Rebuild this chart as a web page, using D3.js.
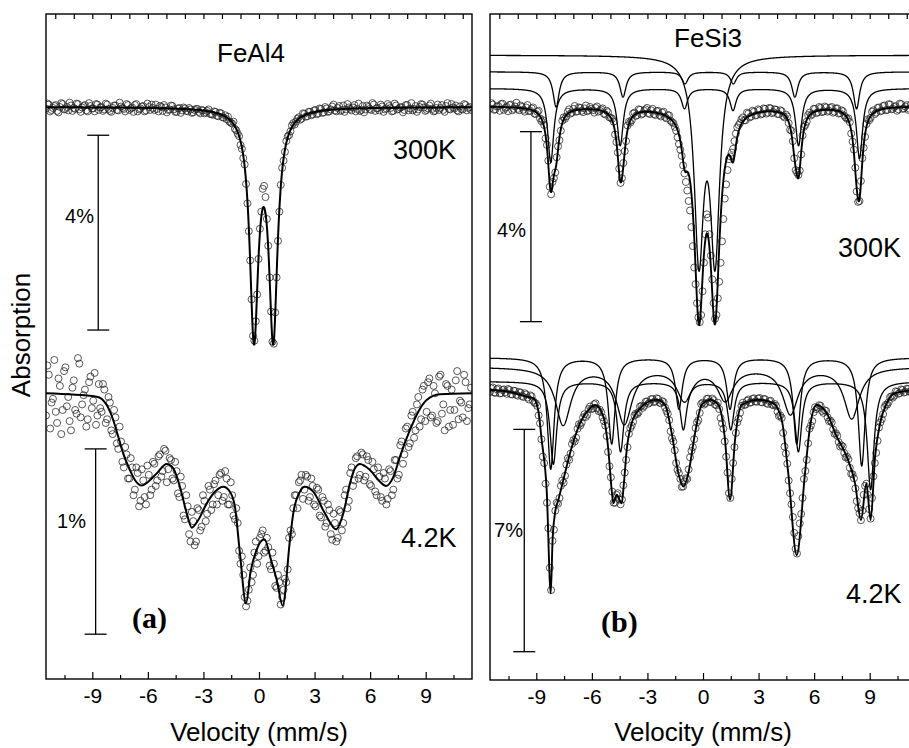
<!DOCTYPE html>
<html><head><meta charset="utf-8">
<script src="https://cdn.jsdelivr.net/npm/d3@7/dist/d3.min.js"></script>
<style>html,body{margin:0;padding:0;background:#fff;}svg{display:block;}</style>
</head><body>
<svg id="chart" width="909" height="748"></svg>
<script>
// ---------------- DATA ----------------
const velocityTicks = [-9, -6, -3, 0, 3, 6, 9];
const minorTicks = [-10.5, -7.5, -4.5, -1.5, 1.5, 4.5, 7.5, 10.5];
const topTicks = [-11,-10,-9,-8,-7,-6,-5,-4,-3,-2,-1,0,1,2,3,4,5,6,7,8,9,10,11];
const velocityDomain = [-11.5, 11.5];
// channels: even channels start at -11.5, odd channels at -11.425, both every 0.15 mm/s
const evenStart = -11.5, oddStart = -11.425, channelStep = 0.15;

// measured absorption (%) per channel
const feal4_300K_even = [0.03,-0.05,0.06,-0.02,0.08,0.00,-0.06,0.04,0.07,-0.03,
0.02,-0.07,0.05,0.01,-0.04,0.09,-0.02,0.03,-0.06,0.06,
0.00,0.05,-0.05,0.08,0.02,-0.03,0.07,-0.01,0.04,-0.06,
0.06,0.01,-0.04,0.09,0.03,-0.02,0.07,0.00,-0.05,0.06,
0.04,-0.02,0.08,0.01,0.06,-0.03,0.05,0.10,0.02,0.07,
0.03,0.09,0.05,0.11,0.04,0.10,0.06,0.13,0.08,0.14,
0.16,0.10,0.19,0.13,0.22,0.25,0.30,0.34,0.45,0.55,
0.78,1.05,1.58,2.55,3.95,4.80,3.85,2.50,1.68,1.85,
2.85,4.20,4.86,3.50,2.15,1.25,0.92,0.60,0.50,0.33,
0.30,0.21,0.24,0.14,0.19,0.10,0.15,0.06,0.13,0.04,
0.11,0.03,0.09,-0.01,0.07,0.02,0.08,-0.03,0.05,0.01,
0.07,-0.04,0.04,0.08,-0.02,0.05,0.00,0.06,-0.05,0.03,
0.07,-0.01,0.05,-0.06,0.02,0.08,-0.03,0.04,0.00,0.06,
-0.04,0.03,0.07,-0.02,0.05,-0.06,0.01,0.06,-0.03,0.04,
0.08,-0.05,0.02,0.06,-0.02,0.04,-0.06,0.03,0.07,-0.01,
0.05,-0.04,0.02,0.06];
const feal4_300K_odd = [-0.07,0.09,0.02,-0.04,0.11,-0.08,0.05,0.00,-0.09,0.08,
0.04,-0.06,0.10,-0.02,0.07,-0.08,0.03,0.09,-0.05,0.01,
0.08,-0.07,0.04,0.10,-0.03,0.06,-0.09,0.02,0.09,-0.04,
0.03,0.10,-0.06,0.05,-0.01,0.09,-0.07,0.06,0.02,-0.05,
0.09,0.00,-0.04,0.11,0.05,-0.02,0.10,0.03,0.12,0.01,
0.08,0.02,0.12,0.06,0.04,0.13,0.07,0.11,0.05,0.15,
0.09,0.18,0.12,0.21,0.17,0.20,0.32,0.30,0.48,0.60,
0.86,1.18,1.98,3.15,4.70,4.40,3.12,2.15,1.62,2.30,
3.50,4.82,4.22,2.75,1.60,1.10,0.70,0.58,0.38,0.36,
0.24,0.26,0.13,0.20,0.10,0.17,0.07,0.15,0.03,0.12,
0.00,0.10,0.05,-0.05,0.09,-0.02,0.06,0.10,-0.06,0.04,
0.01,0.09,-0.07,0.06,0.11,-0.03,0.04,-0.08,0.08,0.02,
-0.05,0.10,0.03,-0.02,0.09,-0.07,0.05,0.01,0.11,-0.04,
0.07,-0.08,0.04,0.10,0.00,-0.05,0.08,0.03,-0.07,0.09,
0.02,0.06,-0.04,0.10,-0.08,0.05,0.01,-0.03,0.09,0.04,
-0.06,0.07,0.00];

const feal4_4K_even = [0.12,-0.10,0.05,-0.18,0.16,-0.04,0.09,-0.14,0.02,0.20,
-0.07,0.11,-0.16,0.06,-0.02,0.14,-0.09,0.04,0.17,-0.05,
0.10,-0.02,0.14,0.05,0.22,0.13,0.30,0.26,0.40,0.33,
0.46,0.40,0.52,0.43,0.58,0.47,0.60,0.44,0.52,0.38,
0.47,0.33,0.42,0.31,0.41,0.36,0.47,0.42,0.56,0.50,
0.68,0.61,0.80,0.69,0.80,0.63,0.72,0.58,0.65,0.52,
0.60,0.47,0.55,0.43,0.56,0.46,0.60,0.55,0.68,0.70,
0.92,0.98,1.15,1.06,1.02,0.86,0.92,0.78,0.74,0.85,
0.83,0.95,0.92,1.05,1.02,1.10,1.00,0.95,0.74,0.62,
0.55,0.48,0.44,0.52,0.45,0.56,0.50,0.61,0.52,0.67,
0.58,0.70,0.63,0.79,0.70,0.78,0.64,0.70,0.52,0.58,
0.40,0.47,0.34,0.44,0.33,0.45,0.36,0.50,0.41,0.55,
0.45,0.58,0.46,0.57,0.42,0.52,0.36,0.44,0.26,0.33,
0.18,0.27,0.10,0.20,0.02,0.14,-0.04,0.10,-0.08,0.12,
0.00,0.15,-0.10,0.06,-0.05,0.18,-0.02,0.09,-0.12,0.04,
0.13,-0.06,0.08,-0.03];
const feal4_4K_odd = [-0.15,0.19,0.03,0.10,-0.08,0.22,-0.12,0.07,0.15,-0.03,
0.09,-0.19,0.13,0.01,0.18,-0.06,0.08,-0.11,0.12,0.08,
-0.05,0.16,0.02,0.20,0.09,0.27,0.18,0.37,0.29,0.46,
0.35,0.55,0.40,0.61,0.41,0.56,0.39,0.55,0.37,0.50,
0.34,0.45,0.30,0.48,0.35,0.46,0.37,0.54,0.45,0.66,
0.55,0.76,0.64,0.82,0.62,0.74,0.55,0.69,0.50,0.63,
0.49,0.60,0.44,0.58,0.42,0.60,0.48,0.66,0.62,0.85,
0.88,1.10,1.12,0.94,0.98,0.80,0.88,0.76,0.86,0.78,
0.93,0.86,1.04,0.98,1.14,1.06,1.02,0.78,0.76,0.55,
0.62,0.47,0.57,0.44,0.58,0.46,0.60,0.51,0.66,0.56,
0.72,0.60,0.76,0.65,0.80,0.63,0.74,0.55,0.62,0.43,
0.50,0.35,0.46,0.32,0.47,0.34,0.49,0.37,0.53,0.40,
0.56,0.43,0.60,0.41,0.55,0.36,0.46,0.28,0.38,0.19,
0.29,0.12,0.24,0.06,0.18,-0.02,0.15,-0.06,0.13,-0.04,
0.16,-0.09,0.11,0.20,-0.04,0.09,0.17,-0.07,0.14,0.05,
-0.10,0.15,0.06];

const fesi3_300K_even = [0.05,-0.03,0.07,0.00,-0.04,0.08,0.02,-0.02,0.09,0.01,
0.06,-0.01,0.08,0.03,0.11,0.05,0.16,0.12,0.26,0.30,
0.68,1.15,1.86,1.52,1.08,0.72,0.31,0.27,0.12,0.16,
0.06,0.12,0.03,0.10,0.05,0.11,0.02,0.09,0.04,0.12,
0.07,0.16,0.10,0.24,0.27,0.60,0.98,1.62,1.20,0.74,
0.33,0.30,0.14,0.19,0.08,0.16,0.07,0.15,0.09,0.17,
0.11,0.19,0.14,0.23,0.19,0.31,0.36,0.52,0.80,1.05,
1.42,1.78,2.20,2.95,3.75,4.45,4.40,3.30,2.28,2.70,
3.65,4.48,4.05,3.30,2.38,1.65,1.12,0.98,0.74,0.45,
0.36,0.24,0.30,0.16,0.22,0.12,0.19,0.09,0.16,0.06,
0.14,0.05,0.13,0.08,0.17,0.11,0.24,0.22,0.50,0.74,
1.35,1.45,1.02,0.44,0.33,0.14,0.17,0.06,0.13,0.04,
0.11,0.03,0.10,0.02,0.12,0.05,0.15,0.11,0.24,0.26,
0.58,0.92,1.80,2.00,1.10,0.65,0.28,0.25,0.09,0.14,
0.03,0.10,-0.01,0.08,-0.03,0.06,0.00,0.07,-0.04,0.05,
-0.02,0.06,0.01,-0.03];
const fesi3_300K_odd = [-0.06,0.08,0.01,0.10,-0.05,0.04,0.11,-0.03,0.06,-0.07,
0.09,0.02,0.12,-0.02,0.10,0.03,0.17,0.10,0.32,0.40,
0.82,1.70,1.60,1.40,0.85,0.52,0.24,0.22,0.07,0.14,
0.00,0.11,0.04,0.13,-0.01,0.09,0.06,0.14,0.01,0.10,
0.05,0.18,0.13,0.25,0.33,0.76,1.32,1.52,0.95,0.41,
0.35,0.16,0.21,0.07,0.18,0.10,0.04,0.17,0.06,0.19,
0.10,0.22,0.12,0.26,0.20,0.34,0.44,0.66,0.92,1.25,
1.60,2.00,2.55,3.40,4.15,4.55,3.90,2.70,2.35,3.15,
4.15,4.40,3.70,2.85,1.95,1.35,1.06,0.90,0.58,0.40,
0.28,0.30,0.14,0.24,0.10,0.20,0.07,0.18,0.05,0.16,
0.04,0.15,0.07,0.17,0.09,0.21,0.18,0.36,0.52,1.10,
1.40,1.36,0.62,0.40,0.19,0.20,0.06,0.15,0.02,0.13,
0.01,0.12,0.04,0.14,0.05,0.16,0.09,0.20,0.27,0.34,
0.75,1.30,2.02,1.58,0.88,0.38,0.30,0.12,0.17,0.04,
0.11,0.00,0.09,-0.04,0.07,0.02,0.10,-0.05,0.06,0.01,
0.08,-0.03,0.05];

const fesi3_4K_even = [0.06,-0.08,0.09,-0.05,0.10,-0.02,0.12,0.00,0.14,0.03,
0.18,0.08,0.22,0.14,0.30,0.20,0.40,0.50,1.05,2.10,
2.95,4.35,6.30,4.40,3.55,3.40,2.85,2.70,2.15,2.00,
1.58,1.50,1.08,1.03,0.76,0.78,0.52,0.58,0.42,0.66,
0.70,0.98,1.45,2.40,3.20,3.55,3.25,3.60,3.00,2.20,
1.38,1.12,0.80,0.76,0.52,0.56,0.37,0.43,0.29,0.38,
0.26,0.40,0.35,0.55,0.75,1.30,1.62,2.30,2.62,3.05,
2.88,2.80,2.12,1.80,1.20,0.95,0.44,0.46,0.28,0.37,
0.27,0.46,0.40,0.88,1.22,2.10,3.25,2.80,1.80,1.02,
0.72,0.40,0.46,0.30,0.39,0.26,0.37,0.25,0.39,0.29,
0.44,0.34,0.48,0.50,0.82,0.88,1.78,2.32,3.25,4.00,
5.00,4.60,3.90,2.80,2.20,1.22,0.98,0.54,0.56,0.50,
0.72,0.66,0.98,1.02,1.38,1.44,1.78,1.78,2.12,2.18,
2.64,2.78,3.50,3.88,3.80,3.02,3.30,4.05,2.72,1.98,
1.18,0.92,0.54,0.46,0.22,0.24,0.04,0.12,-0.02,0.08,
-0.04,0.06,-0.06,0.03];
const fesi3_4K_odd = [-0.05,0.08,-0.02,0.11,0.00,0.07,-0.03,0.13,0.02,0.15,
0.06,0.19,0.10,0.24,0.17,0.34,0.42,0.80,1.55,2.30,
3.55,5.60,4.75,3.80,3.58,3.02,2.92,2.35,2.20,1.70,
1.62,1.22,1.12,0.86,0.85,0.60,0.60,0.45,0.58,0.62,
0.86,1.12,1.95,2.75,3.55,3.30,3.45,3.45,2.60,1.80,
1.20,1.00,0.74,0.70,0.50,0.50,0.36,0.40,0.28,0.36,
0.28,0.42,0.38,0.66,0.95,1.52,1.90,2.52,2.80,3.04,
2.78,2.50,1.92,1.55,1.02,0.72,0.40,0.42,0.27,0.38,
0.32,0.48,0.60,1.05,1.62,2.60,3.40,2.30,1.35,0.90,
0.50,0.47,0.34,0.40,0.28,0.36,0.27,0.38,0.28,0.41,
0.35,0.46,0.44,0.68,0.80,1.35,2.00,2.85,3.60,4.50,
5.15,4.20,3.40,2.55,1.68,1.12,0.70,0.60,0.48,0.66,
0.64,0.86,0.96,1.24,1.36,1.64,1.74,1.98,2.10,2.45,
2.65,3.10,3.72,4.10,3.30,2.95,3.75,3.40,2.30,1.60,
1.02,0.76,0.46,0.38,0.20,0.18,0.06,0.10,0.00,0.06,
-0.03,0.05,-0.02];

// fitted lines (Lorentzian): positions (mm/s), depths (%), half widths (mm/s)
const feal4_300K_fitPos = [-0.27, 0.77];
const feal4_300K_fitDepth = [4.57, 4.57];
const feal4_300K_fitWidth = [0.28, 0.28];

// FeAl4 4.2 K fitted envelope: [velocity, absorption %]
const feal4_4K_fit = [[-11.5,0],[-8.76,0.018],[-8.22,0.063],[-7.87,0.144],[-7.6,0.234],[-7.33,0.324],[-6.97,0.414],[-6.7,0.468],[-6.33,0.498],[-5.98,0.477],[-5.52,0.432],[-4.98,0.382],[-4.63,0.405],[-4.27,0.504],[-3.9,0.648],[-3.63,0.725],[-3.28,0.684],[-2.82,0.594],[-2.38,0.531],[-1.93,0.504],[-1.57,0.531],[-1.3,0.612],[-1.03,0.863],[-0.7,1.133],[-0.45,0.96],[-0.15,0.85],[0.29,0.788],[0.65,0.9],[0.96,1.008],[1.28,1.146],[1.67,0.792],[1.85,0.648],[2.21,0.531],[2.48,0.504],[2.93,0.531],[3.56,0.648],[4.16,0.734],[4.55,0.648],[4.91,0.486],[5.18,0.405],[5.45,0.382],[5.99,0.414],[6.53,0.477],[6.86,0.5],[7.26,0.45],[7.61,0.342],[8.15,0.198],[8.6,0.099],[9.05,0.036],[9.77,0.005],[11.5,0]];

// FeSi3 300 K sub-spectra
const fesi3_300K_doubletPos = [-0.22, 0.65];
const fesi3_300K_doubletDepth = [4.11, 4.11];
const fesi3_300K_doubletWidth = [0.3, 0.3];
const fesi3_300K_sextetBPos = [-7.93, -4.32, -0.97, 1.64, 4.96, 8.29];
const fesi3_300K_sextetBDepth = [0.74, 0.53, 0.25, 0.25, 0.53, 0.78];
const fesi3_300K_sextetBWidth = [0.2, 0.2, 0.2, 0.2, 0.2, 0.2];
const fesi3_300K_sextetCPos = [-8.22, -4.47, -1.0, 1.62, 5.16, 8.45];
const fesi3_300K_sextetCDepth = [1.55, 1.2, 0.42, 0.46, 1.2, 1.47];
const fesi3_300K_sextetCWidth = [0.2, 0.2, 0.2, 0.2, 0.2, 0.2];
const fesi3_300K_componentOffsets = [-1.07, -0.72, -0.37];  // % above baseline

// FeSi3 4.2 K sub-spectra
const fesi3_4K_sextetPPos = [-8.22, -4.93, -1.3, 1.46, 5.06, 8.57];
const fesi3_4K_sextetPDepth = [3.5, 2.7, 1.6, 1.6, 2.7, 3.4];
const fesi3_4K_sextetPWidth = [0.22, 0.22, 0.22, 0.22, 0.22, 0.22];
const fesi3_4K_sextetQPos = [-7.55, -4.25, -1.0, 1.2, 4.72, 8.03];
const fesi3_4K_sextetQDepth = [1.8, 1.75, 1.0, 1.0, 1.45, 1.6];
const fesi3_4K_sextetQWidth = [0.5, 0.5, 0.5, 0.5, 0.5, 0.5];
const fesi3_4K_sextetRPos = [-8.08, -4.45, -1.06, 1.5, 5.15, 9.05];
const fesi3_4K_sextetRDepth = [2.6, 2.2, 1.5, 1.5, 2.2, 3.4];
const fesi3_4K_sextetRWidth = [0.22, 0.22, 0.22, 0.22, 0.22, 0.22];
const fesi3_4K_componentOffsets = [-1.02, -0.73, -0.27];
// total fit envelope: [velocity, absorption %]
const fesi3_4K_fit = [[-11.5,0],[-10.5,0.05],[-9.5,0.21],[-9.16,0.26],[-8.9,0.63],[-8.71,1.57],[-8.44,3.15],[-8.22,6.4],[-8.12,4.7],[-7.99,3.88],[-7.81,3.46],[-7.54,2.83],[-7.18,1.99],[-6.64,1.05],[-6.1,0.58],[-5.83,0.47],[-5.38,0.84],[-5.11,1.89],[-4.93,3.15],[-4.84,3.57],[-4.66,3.3],[-4.39,3.57],[-4.27,2.94],[-4.12,1.89],[-3.85,1.05],[-3.4,0.58],[-2.95,0.37],[-2.5,0.31],[-2.05,0.47],[-1.69,1.36],[-1.33,2.62],[-1.06,3.04],[-0.79,2.62],[-0.43,1.36],[-0.07,0.47],[0.38,0.31],[0.83,0.47],[1.19,1.57],[1.46,3.46],[1.73,1.57],[2.09,0.47],[2.99,0.31],[3.8,0.42],[4.25,0.94],[4.6,2.6],[5.06,5.2],[5.51,2.6],[5.78,1.15],[6.14,0.47],[6.68,0.73],[7.22,1.47],[7.76,2.1],[8.21,2.94],[8.53,4.1],[8.82,2.94],[9.05,4.1],[9.29,2.1],[9.56,1.05],[9.92,0.42],[10.37,0.1],[11.5,0]];

// scale bars (% span) and their upper end (%)
const scaleBarSpan = [4, 1, 4, 7];
const scaleBarTop = [0.58, 0.30, 0.54, 1.24];

// ---------------- DRAWING ----------------
const FONT = "'Liberation Sans', Arial, Helvetica, sans-serif";
const svg = d3.select("#chart");

const panels = [
  {x0: 46, x1: 472, y0: 14, y1: 679},
  {x0: 490, x1: 916, y0: 14, y1: 680}
];
const xL = d3.scaleLinear().domain(velocityDomain).range([panels[0].x0, panels[0].x1]);
const xR = d3.scaleLinear().domain(velocityDomain).range([panels[1].x0, panels[1].x1]);

const yA300 = d3.scaleLinear().domain([0, 4]).range([107, 107 + 4 * 48.7]);
const yA4 = d3.scaleLinear().domain([0, 1]).range([393.3, 393.3 + 185.3]);
const yS300 = d3.scaleLinear().domain([0, 4]).range([106, 106 + 4 * 47.5]);
const yS4 = d3.scaleLinear().domain([0, 7]).range([390, 390 + 7 * 31.76]);

function lorentz(pos, depth, width) {
  return v => d3.sum(pos, (p, k) => depth[k] / (1 + ((v - p) / width[k]) ** 2));
}
const grid = d3.range(velocityDomain[0], velocityDomain[1] + 1e-9, 0.01);

const defs = svg.append("defs");
panels.forEach((p, i) => {
  defs.append("clipPath").attr("id", "clip" + i).append("rect")
    .attr("x", p.x0).attr("y", p.y0).attr("width", p.x1 - p.x0).attr("height", p.y1 - p.y0);
});
const gL = svg.append("g").attr("clip-path", "url(#clip0)");
const gR = svg.append("g").attr("clip-path", "url(#clip1)");

function drawPoints(g, x, y, even, odd) {
  const pts = even.map((d, i) => [evenStart + i * channelStep, d])
    .concat(odd.map((d, i) => [oddStart + i * channelStep, d]));
  g.append("g").selectAll("circle").data(pts).join("circle")
    .attr("cx", d => x(d[0]))
    .attr("cy", d => y(d[1]))
    .attr("r", 3.5)
    .attr("fill", "none").attr("stroke", "#222").attr("stroke-width", 0.75);
}
function drawModel(g, x, y, f, offset, width) {
  const line = d3.line().x(v => x(v)).y(v => y(offset + f(v)));
  g.append("path").attr("d", line(grid)).attr("fill", "none")
    .attr("stroke", "#000").attr("stroke-width", width).attr("stroke-linejoin", "round");
}
function drawPts(g, x, y, pts, width) {
  const line = d3.line().x(d => x(d[0])).y(d => y(d[1])).curve(d3.curveMonotoneX);
  g.append("path").attr("d", line(pts)).attr("fill", "none")
    .attr("stroke", "#000").attr("stroke-width", width).attr("stroke-linejoin", "round");
}

// ---- left panel: FeAl4
drawPoints(gL, xL, yA300, feal4_300K_even, feal4_300K_odd);
drawModel(gL, xL, yA300, lorentz(feal4_300K_fitPos, feal4_300K_fitDepth, feal4_300K_fitWidth), 0, 2);
drawPoints(gL, xL, yA4, feal4_4K_even, feal4_4K_odd);
drawPts(gL, xL, yA4, feal4_4K_fit, 2);

// ---- right panel: FeSi3
const fD = lorentz(fesi3_300K_doubletPos, fesi3_300K_doubletDepth, fesi3_300K_doubletWidth);
const fB = lorentz(fesi3_300K_sextetBPos, fesi3_300K_sextetBDepth, fesi3_300K_sextetBWidth);
const fC = lorentz(fesi3_300K_sextetCPos, fesi3_300K_sextetCDepth, fesi3_300K_sextetCWidth);
drawPoints(gR, xR, yS300, fesi3_300K_even, fesi3_300K_odd);
drawModel(gR, xR, yS300, fD, fesi3_300K_componentOffsets[0], 1.3);
drawModel(gR, xR, yS300, fB, fesi3_300K_componentOffsets[1], 1.3);
drawModel(gR, xR, yS300, fC, fesi3_300K_componentOffsets[2], 1.3);
drawModel(gR, xR, yS300, v => fD(v) + fB(v) + fC(v), 0, 1.9);

const fP = lorentz(fesi3_4K_sextetPPos, fesi3_4K_sextetPDepth, fesi3_4K_sextetPWidth);
const fQ = lorentz(fesi3_4K_sextetQPos, fesi3_4K_sextetQDepth, fesi3_4K_sextetQWidth);
const fR = lorentz(fesi3_4K_sextetRPos, fesi3_4K_sextetRDepth, fesi3_4K_sextetRWidth);
drawPoints(gR, xR, yS4, fesi3_4K_even, fesi3_4K_odd);
drawModel(gR, xR, yS4, fP, fesi3_4K_componentOffsets[0], 1.3);
drawModel(gR, xR, yS4, fQ, fesi3_4K_componentOffsets[1], 1.3);
drawModel(gR, xR, yS4, fR, fesi3_4K_componentOffsets[2], 1.3);
drawPts(gR, xR, yS4, fesi3_4K_fit, 1.9);

// ---- frames & axes
function styleText(sel, size) {
  sel.attr("font-family", FONT).attr("font-size", size).attr("fill", "#000");
}
[[panels[0], xL], [panels[1], xR]].forEach(([p, x]) => {
  svg.append("rect").attr("x", p.x0).attr("y", p.y0).attr("width", p.x1 - p.x0).attr("height", p.y1 - p.y0)
    .attr("fill", "none").attr("stroke", "#000").attr("stroke-width", 1.4);
  const major = svg.append("g").attr("transform", `translate(0,${p.y1})`)
    .call(d3.axisBottom(x).tickValues(velocityTicks).tickSizeInner(-7).tickSizeOuter(0).tickPadding(9).tickFormat(d => String(d)));
  major.select(".domain").remove();
  major.selectAll("line").attr("stroke-width", 1.2);
  styleText(major.selectAll("text"), 21);
  const minor = svg.append("g").attr("transform", `translate(0,${p.y1})`)
    .call(d3.axisBottom(x).tickValues(minorTicks).tickSizeInner(-4).tickSizeOuter(0).tickFormat(""));
  minor.select(".domain").remove();
  minor.selectAll("line").attr("stroke-width", 1.2);
  const top = svg.append("g").attr("transform", `translate(0,${p.y0})`)
    .call(d3.axisTop(x).tickValues(topTicks.filter(t => x(t) > p.x0 + 2 && x(t) < p.x1 - 2)).tickSizeInner(-5).tickSizeOuter(0).tickFormat(""));
  top.select(".domain").remove();
  top.selectAll("line").attr("stroke-width", 1.2);
  styleText(svg.append("text").attr("x", x(0)).attr("y", 741).attr("text-anchor", "middle").text("Velocity (mm/s)"), 26);
});

// scale bars
const bars = [
  {x: xL, v: -8.68, y: yA300, k: 0},
  {x: xL, v: -8.82, y: yA4, k: 1},
  {x: xR, v: -9.29, y: yS300, k: 2},
  {x: xR, v: -9.65, y: yS4, k: 3}
];
bars.forEach(b => {
  const cx = b.x(b.v), ya = b.y(scaleBarTop[b.k]), yb = b.y(scaleBarTop[b.k] + scaleBarSpan[b.k]);
  const g = svg.append("g").attr("stroke", "#000").attr("stroke-width", 1.3);
  g.append("line").attr("x1", cx).attr("x2", cx).attr("y1", ya).attr("y2", yb);
  g.append("line").attr("x1", cx - 11).attr("x2", cx + 11).attr("y1", ya).attr("y2", ya);
  g.append("line").attr("x1", cx - 11).attr("x2", cx + 11).attr("y1", yb).attr("y2", yb);
});
const barLabels = [[94, 223, "4%"], [86, 528, "1%"], [526, 237, "4%"], [523, 537, "7%"]];
barLabels.forEach(([x, y, t]) => styleText(svg.append("text").attr("x", x).attr("y", y).attr("text-anchor", "end").text(t), 20));

// texts
styleText(svg.append("text").attr("x", 217).attr("y", 62).text("FeAl4"), 26);
styleText(svg.append("text").attr("x", 674).attr("y", 47).text("FeSi3"), 26);
styleText(svg.append("text").attr("x", 393).attr("y", 159).text("300K"), 27);
styleText(svg.append("text").attr("x", 401).attr("y", 547).text("4.2K"), 27);
styleText(svg.append("text").attr("x", 838).attr("y", 257).text("300K"), 27);
styleText(svg.append("text").attr("x", 846).attr("y", 603).text("4.2K"), 27);
svg.append("text").attr("x", 132).attr("y", 628).text("(a)")
  .attr("font-family", "'Liberation Serif', 'Times New Roman', serif").attr("font-weight", "bold").attr("font-size", 30);
svg.append("text").attr("x", 601).attr("y", 632).text("(b)")
  .attr("font-family", "'Liberation Serif', 'Times New Roman', serif").attr("font-weight", "bold").attr("font-size", 30);
styleText(svg.append("text").attr("transform", "translate(30,335) rotate(-90)").attr("text-anchor", "middle").text("Absorption"), 26);
</script>
</body></html>
